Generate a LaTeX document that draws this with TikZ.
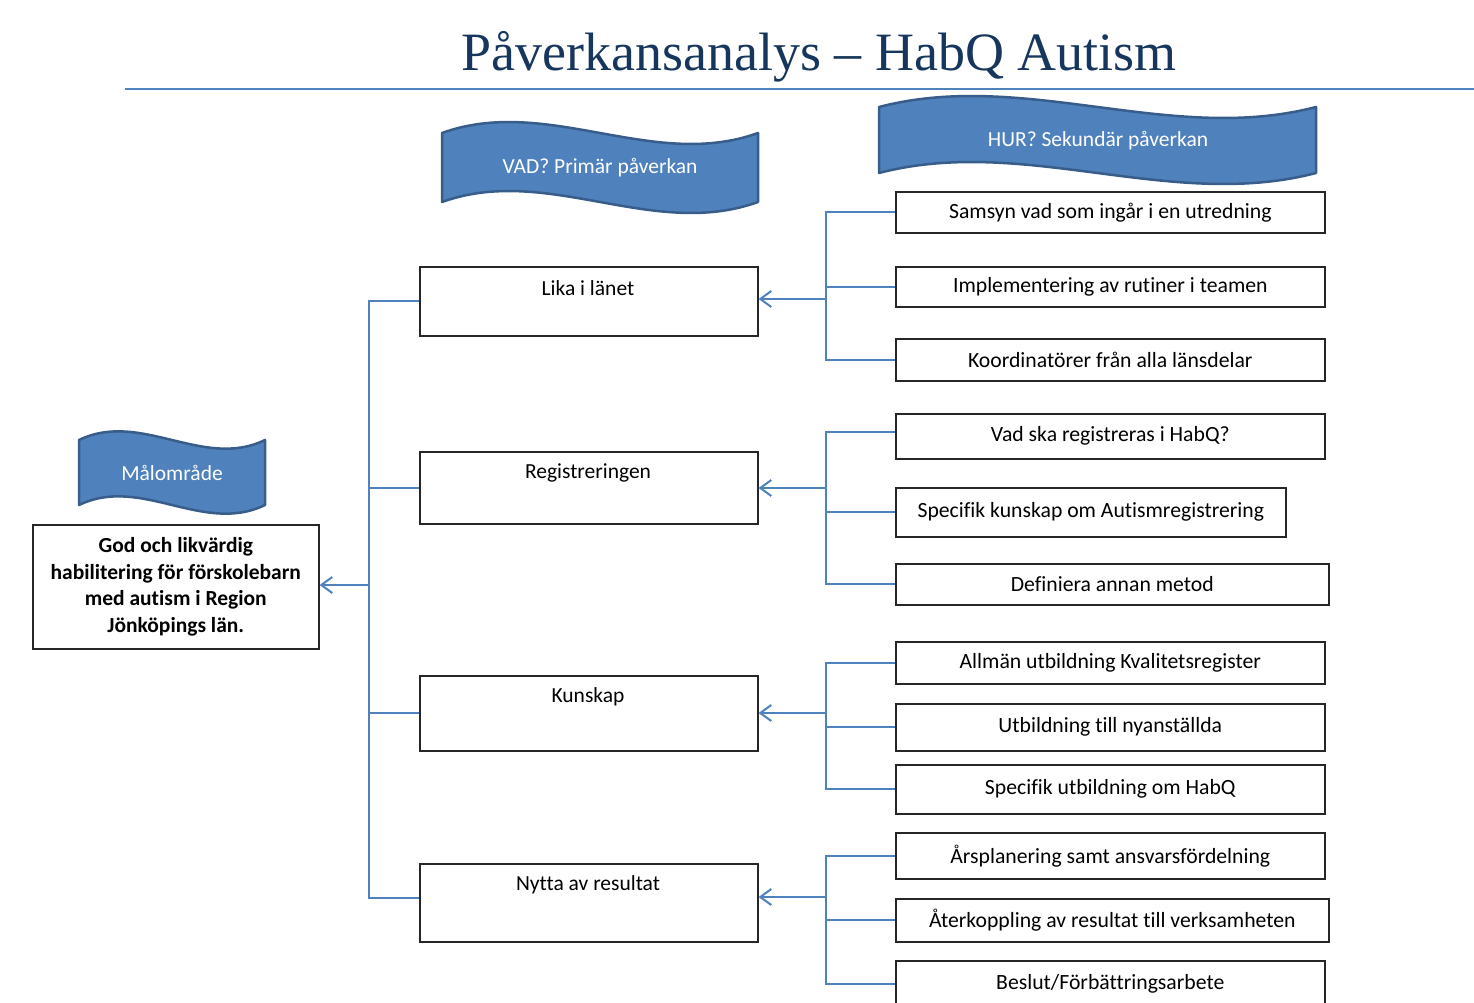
\documentclass[tikz,border=0pt]{standalone}
\usepackage{fontspec}
\setmainfont{Carlito}[Ligatures={TeX,NoCommon}]
\newfontfamily\titlefont{Liberation Serif}
\usetikzlibrary{arrows.meta}
\definecolor{accent}{HTML}{4F81BD}
\definecolor{accentdk}{HTML}{385D8A}
\definecolor{titlec}{HTML}{17365D}
\newcommand\wavebanner[5]{%
  \filldraw[bannerst] (#1,#3) .. controls ({(2*#1+#2)/3},{#3-#5}) and ({(#1+2*#2)/3},{#3+#5}) .. (#2,#3)
   -- (#2,#4) .. controls ({(#1+2*#2)/3},{#4+#5}) and ({(2*#1+#2)/3},{#4-#5}) .. (#1,#4) -- cycle;}
\tikzset{
  bannerst/.style={fill=accent, draw=accentdk, line width=2.5pt, line join=round},
  bannertext/.style={text=white, font=\fontsize{21.5}{26}\selectfont},
  pbox/.style={draw=black!85, line width=1.6pt, anchor=north west, minimum width=338pt, inner sep=0pt},
  ptext/.style={font=\fontsize{21.5}{26}\selectfont},
  sbox/.style={draw=black!85, line width=1.6pt, anchor=north west, inner sep=0pt, font=\fontsize{21.7}{26}\selectfont},
  conn/.style={draw=accent, line width=2pt},
  arr/.style={-{Straight Barb[length=11pt,width=16pt,line width=2pt]}},
}
\begin{document}
\begin{tikzpicture}[x=1pt,y=-1pt]
\useasboundingbox (0,0) rectangle (1474,1002);
% title
\node[font=\titlefont\fontsize{54}{60}\selectfont, text=titlec, anchor=base] (title) at (819,70) {Påverkansanalys – HabQ Autism};
\coordinate (ruleL) at (125,89);
\coordinate (ruleR) at (1474,89);
\draw[accent, line width=2pt] (ruleL) -- (ruleR);
% banners
\wavebanner{442}{758}{133}{202}{38}
\node[bannertext] (vad) at (600,168) {VAD? Primär påverkan};
\wavebanner{879}{1316}{107}{173}{38}
\node[bannertext] (hur) at (1098,141) {HUR? Sekundär påverkan};
\wavebanner{79}{265}{440}{505}{30}
\node[bannertext] (mal) at (172,473) {Målområde};
% goal
\node[draw=black!85, line width=1.6pt, anchor=north west, minimum width=286pt, minimum height=124pt, inner sep=0pt, align=center, font=\fontsize{21.5}{26.7}\selectfont\bfseries] (goal) at (32,524)
  {God och likvärdig\\habilitering för förskolebarn\\med autism i Region\\Jönköpings län.};
% primary boxes
\node[pbox, minimum height=69pt] (lika) at (419,266) {};
\node[ptext] (likaT) at (588,288) {Lika i länet};
\node[pbox, minimum height=72pt] (reg) at (419,451) {};
\node[ptext] (regT) at (588,473) {Registreringen};
\node[pbox, minimum height=75pt] (kun) at (419,675) {};
\node[ptext] (kunT) at (588,697) {Kunskap};
\node[pbox, minimum height=78pt] (nytta) at (419,863) {};
\node[ptext] (nyttaT) at (588,885) {Nytta av resultat};
% secondary boxes
\node[sbox, minimum width=429pt, minimum height=41pt] (s1) at (895,191) {Samsyn vad som ingår i en utredning};
\node[sbox, minimum width=429pt, minimum height=40pt] (s2) at (895,266) {Implementering av rutiner i teamen};
\node[sbox, minimum width=429pt, minimum height=42pt] (s3) at (895,338) {Koordinatörer från alla länsdelar};
\node[sbox, minimum width=429pt, minimum height=45pt] (s4) at (895,413) {Vad ska registreras i HabQ?};
\node[sbox, minimum width=390pt, minimum height=49pt] (s5) at (895,487) {Specifik kunskap om Autismregistrering};
\node[sbox, minimum width=433pt, minimum height=41pt] (s6) at (895,563) {Definiera annan metod};
\node[sbox, minimum width=429pt, minimum height=42pt] (s7) at (895,641) {Allmän utbildning Kvalitetsregister};
\node[sbox, minimum width=429pt, minimum height=47pt] (s8) at (895,703) {Utbildning till nyanställda};
\node[sbox, minimum width=429pt, minimum height=49pt] (s9) at (895,764) {Specifik utbildning om HabQ};
\node[sbox, minimum width=429pt, minimum height=46pt] (s10) at (895,832) {Årsplanering samt ansvarsfördelning};
\node[sbox, minimum width=433pt, minimum height=43pt] (s11) at (895,898) {Återkoppling av resultat till verksamheten};
\node[sbox, minimum width=429pt, minimum height=46pt] (s12) at (895,960) {Beslut/Förbättringsarbete};
% left tree
\coordinate (jL) at (369,585);
\draw[conn] (lika.west) -| (jL);
\draw[conn] ([yshift=5pt]nytta.west) -| (jL);
\draw[conn] (reg.west) -- (reg.west -| jL);
\draw[conn] (kun.west) -- (kun.west -| jL);
\draw[conn, arr] (jL) -- (jL -| goal.east);
% right trees
\coordinate (j1) at (826,299);
\draw[conn] (s1.west) -| (j1);
\draw[conn] (s3.west) -| (j1);
\draw[conn] (s2.west) -- (s2.west -| j1);
\draw[conn, arr] (j1) -- (j1 -| lika.east);
\coordinate (j2) at (826,488);
\draw[conn] ([yshift=4pt]s4.west) -| (j2);
\draw[conn] (s6.west) -| (j2);
\draw[conn] (s5.west) -- (s5.west -| j2);
\draw[conn, arr] (j2) -- (j2 -| reg.east);
\coordinate (j3) at (826,713);
\draw[conn] (s7.west) -| (j3);
\draw[conn] (s9.west) -| (j3);
\draw[conn] (s8.west) -- (s8.west -| j3);
\draw[conn, arr] (j3) -- (j3 -| kun.east);
\coordinate (j4) at (826,897);
\draw[conn] (s10.west) -| (j4);
\draw[conn] (s12.west) -| (j4);
\draw[conn] (s11.west) -- (s11.west -| j4);
\draw[conn, arr] (j4) -- (j4 -| nytta.east);
\end{tikzpicture}
\end{document}
